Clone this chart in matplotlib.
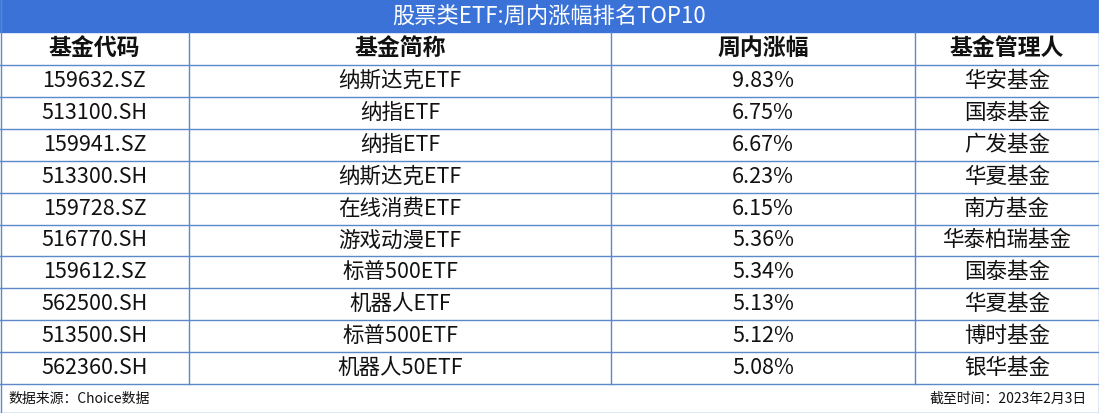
import matplotlib.pyplot as plt
from matplotlib.patches import Rectangle

plt.rcParams['font.family'] = ['Noto Sans CJK SC', 'DejaVu Sans']

title = "股票类ETF:周内涨幅排名TOP10"
headers = ["基金代码", "基金简称", "周内涨幅", "基金管理人"]
codes = ["159632.SZ", "513100.SH", "159941.SZ", "513300.SH", "159728.SZ",
         "516770.SH", "159612.SZ", "562500.SH", "513500.SH", "562360.SH"]
names = ["纳斯达克ETF", "纳指ETF", "纳指ETF", "纳斯达克ETF", "在线消费ETF",
         "游戏动漫ETF", "标普500ETF", "机器人ETF", "标普500ETF", "机器人50ETF"]
gains = [9.83, 6.75, 6.67, 6.23, 6.15, 5.36, 5.34, 5.13, 5.12, 5.08]
managers = ["华安基金", "国泰基金", "广发基金", "华夏基金", "南方基金",
            "华泰柏瑞基金", "国泰基金", "华夏基金", "博时基金", "银华基金"]
source = "数据来源：Choice数据"
date_note = "截至时间：2023年2月3日"

W, H = 1099, 413
fig = plt.figure(figsize=(W / 100, H / 100), dpi=100)
ax = fig.add_axes([0, 0, 1, 1])
ax.set_xlim(0, W)
ax.set_ylim(H, 0)
ax.axis('off')

blue = '#3a72d8'
line = '#5b88c8'
cols = [0, 189, 611, 915, W]
title_h = 32
head_top, head_bot = 32, 65
row_h = (384 - 65) / 10

ax.add_patch(Rectangle((0, 0), W, title_h, color=blue))
ax.text(W / 2, title_h / 2, title, color='white', fontsize=16, ha='center', va='center')

# header
for i, h in enumerate(headers):
    ax.text((cols[i] + cols[i + 1]) / 2, (head_top + head_bot) / 2, h,
            fontsize=16.5, fontweight='bold', ha='center', va='center', color='#111')

rows = list(zip(codes, names, [f"{g:.2f}%" for g in gains], managers))
for r, vals in enumerate(rows):
    yc = head_bot + (r + 0.5) * row_h
    for i, v in enumerate(vals):
        ax.text((cols[i] + cols[i + 1]) / 2, yc, v, fontsize=15.5,
                ha='center', va='center', color='#111')

# grid lines
bottom = head_bot + 10 * row_h
for k in range(11):
    y = head_bot + k * row_h
    ax.plot([0, W], [y, y], color=line, lw=1)
for x in cols[1:-1]:
    ax.plot([x, x], [head_top, bottom], color=line, lw=1)
ax.plot([0.5, 0.5], [0, H], color=line, lw=1)
ax.plot([W - 0.5, W - 0.5], [0, H], color=line, lw=1)
ax.plot([0, W], [H - 0.5, H - 0.5], color=line, lw=1)

ax.text(8, (bottom + H) / 2, source, fontsize=10, ha='left', va='center', color='#111')
ax.text(W - 12, (bottom + H) / 2, date_note, fontsize=10, ha='right', va='center', color='#111')

fig.savefig('out.png', dpi=100)
